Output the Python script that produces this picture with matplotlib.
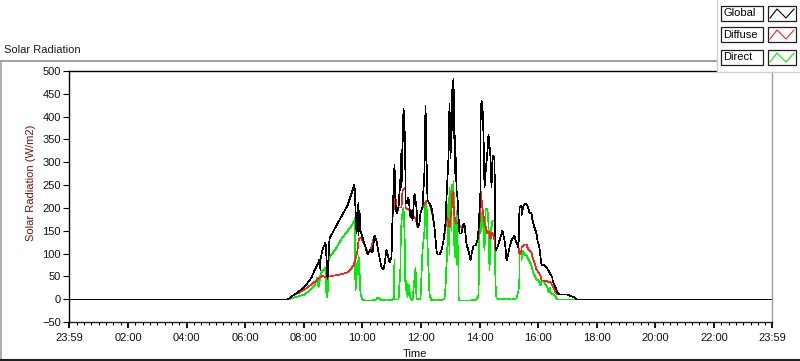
import numpy as np
import matplotlib.pyplot as plt
from matplotlib.patches import Rectangle
from matplotlib.lines import Line2D

plt.rcParams['font.family'] = ['Liberation Sans', 'DejaVu Sans']
plt.rcParams['font.size'] = 8

# time in hours after midnight, radiation in W/m2
t_global = [0, 7.43, 7.66, 7.89, 8.06, 8.23, 8.34, 8.46, 8.52, 8.54,
            8.55, 8.63, 8.72, 8.76, 8.80, 8.85, 9.14, 9.48, 9.73, 9.79,
            9.84, 9.86, 9.89, 9.93, 9.99, 10.11, 10.16, 10.25, 10.33, 10.41,
            10.46, 10.53, 10.62, 10.69, 10.75, 10.81, 10.87, 10.91, 10.96, 11.02,
            11.07, 11.11, 11.13, 11.22, 11.27, 11.31, 11.33, 11.38, 11.41, 11.45,
            11.47, 11.50, 11.56, 11.61, 11.65, 11.70, 11.77, 11.83, 11.88, 11.93,
            11.97, 12.04, 12.09, 12.13, 12.18, 12.21, 12.27, 12.34, 12.38, 12.44,
            12.50, 12.55, 12.63, 12.70, 12.74, 12.81, 12.86, 12.93, 12.97, 13.00,
            13.02, 13.04, 13.05, 13.08, 13.09, 13.11, 13.14, 13.16, 13.18, 13.19,
            13.22, 13.27, 13.31, 13.38, 13.43, 13.47, 13.54, 13.61, 13.68, 13.72,
            13.77, 13.84, 13.90, 13.95, 14.00, 14.02, 14.04, 14.09, 14.11, 14.16,
            14.20, 14.25, 14.29, 14.34, 14.38, 14.41, 14.45, 14.50, 14.54, 14.59,
            14.66, 14.75, 14.82, 14.86, 14.91, 14.95, 15.02, 15.09, 15.16, 15.20,
            15.27, 15.32, 15.36, 15.41, 15.43, 15.48, 15.54, 15.61, 15.68, 15.74,
            15.80, 15.85, 15.91, 15.97, 16.02, 16.08, 16.11, 16.19, 16.27, 16.34,
            16.39, 16.46, 16.48, 16.57, 16.65, 16.71, 16.88, 16.99, 17.05, 17.22,
            17.28, 23.98]
global_rad = [0, 0, 11, 22, 34, 49, 64, 78, 87, 64,
              89, 111, 126, 93, 45, 133, 168, 207, 252, 144,
              213, 140, 195, 151, 137, 107, 100, 111, 104, 140,
              129, 104, 71, 67, 78, 111, 90, 82, 93, 180,
              297, 210, 188, 202, 268, 330, 246, 418, 385, 268,
              217, 210, 224, 180, 195, 173, 232, 202, 158, 166,
              191, 202, 283, 425, 312, 217, 210, 202, 188, 158,
              107, 100, 100, 107, 129, 166, 224, 312, 429, 310,
              400, 350, 480, 420, 484, 330, 380, 260, 312, 239,
              224, 180, 144, 144, 166, 166, 122, 107, 85, 100,
              118, 118, 129, 151, 239, 385, 436, 421, 363, 246,
              276, 327, 363, 312, 246, 312, 316, 305, 107, 115,
              129, 151, 129, 115, 85, 93, 115, 129, 140, 129,
              122, 115, 202, 206, 184, 206, 210, 206, 191, 188,
              173, 158, 144, 129, 115, 93, 78, 75, 71, 64,
              56, 49, 42, 27, 16, 11, 11, 12, 9, 4,
              0, 0]

t_diffuse = [0, 7.43, 7.66, 7.83, 8.00, 8.23, 8.46, 8.63, 8.74, 8.85,
             9.02, 9.25, 9.48, 9.59, 9.69, 9.76, 9.82, 9.86, 9.89, 9.93,
             9.99, 10.02, 10.11, 10.18, 10.27, 10.39, 10.46, 10.53, 10.62, 10.69,
             10.75, 10.81, 10.87, 10.91, 10.96, 11.02, 11.10, 11.13, 11.23, 11.32,
             11.36, 11.44, 11.47, 11.58, 11.64, 11.70, 11.75, 11.81, 11.88, 11.93,
             11.97, 12.04, 12.10, 12.21, 12.27, 12.33, 12.38, 12.44, 12.50, 12.55,
             12.63, 12.70, 12.74, 12.81, 12.83, 12.89, 12.95, 13.01, 13.07, 13.12,
             13.18, 13.24, 13.35, 13.38, 13.43, 13.47, 13.54, 13.61, 13.68, 13.72,
             13.77, 13.84, 13.90, 13.97, 14.03, 14.09, 14.14, 14.20, 14.26, 14.31,
             14.37, 14.43, 14.49, 14.54, 14.59, 14.66, 14.75, 14.82, 14.86, 14.91,
             14.95, 15.02, 15.09, 15.16, 15.20, 15.27, 15.32, 15.36, 15.40, 15.43,
             15.50, 15.57, 15.62, 15.67, 15.74, 15.80, 15.85, 15.93, 16.00, 16.05,
             16.11, 16.19, 16.31, 16.39, 16.46, 16.53, 16.59, 16.65, 16.88, 16.99,
             17.05, 17.22, 17.28, 23.98]
diffuse_rad = [0, 0, 11, 16, 23, 34, 45, 53, 49, 50,
               53, 55, 60, 67, 75, 89, 107, 129, 133, 137,
               129, 126, 111, 104, 107, 140, 129, 104, 71, 67,
               78, 111, 90, 82, 93, 180, 224, 202, 202, 202,
               239, 246, 202, 195, 180, 188, 177, 180, 158, 166,
               191, 202, 210, 217, 210, 195, 184, 158, 107, 100,
               100, 107, 129, 158, 158, 180, 158, 195, 239, 180,
               166, 169, 158, 144, 166, 166, 122, 107, 85, 100,
               118, 118, 129, 158, 239, 200, 170, 160, 146, 150,
               132, 148, 132, 107, 115, 129, 151, 129, 115, 85,
               93, 115, 129, 140, 129, 122, 115, 100, 105, 115,
               122, 120, 114, 110, 104, 93, 82, 67, 60, 53,
               43, 42, 40, 38, 31, 23, 16, 11, 11, 12,
               9, 4, 0, 0]

t_direct = [0, 7.43, 7.77, 8.00, 8.17, 8.34, 8.46, 8.49, 8.55, 8.63,
            8.68, 8.72, 8.75, 8.80, 8.83, 8.91, 9.08, 9.25, 9.42, 9.59,
            9.71, 9.73, 9.75, 9.77, 9.82, 9.84, 9.86, 9.89, 9.91, 9.97,
            10.05, 10.28, 10.45, 10.51, 10.55, 10.65, 10.79, 10.96, 11.03, 11.07,
            11.09, 11.23, 11.27, 11.30, 11.33, 11.38, 11.41, 11.45, 11.49, 11.53,
            11.56, 11.61, 11.71, 11.79, 11.82, 11.91, 11.98, 12.04, 12.09, 12.13,
            12.18, 12.22, 12.27, 12.33, 12.50, 12.67, 12.79, 12.81, 12.86, 12.90,
            12.93, 12.95, 12.97, 13.01, 13.04, 13.07, 13.09, 13.12, 13.16, 13.18,
            13.21, 13.25, 13.27, 13.29, 13.52, 13.69, 13.89, 13.95, 13.97, 14.00,
            14.03, 14.07, 14.11, 14.14, 14.18, 14.22, 14.26, 14.29, 14.31, 14.36,
            14.41, 14.50, 14.52, 14.57, 14.71, 14.89, 15.06, 15.23, 15.30, 15.34,
            15.36, 15.40, 15.43, 15.45, 15.51, 15.57, 15.66, 15.74, 15.80, 15.85,
            15.93, 16.00, 16.08, 16.11, 16.19, 16.25, 16.31, 16.34, 16.39, 16.42,
            16.53, 16.65, 17.28, 23.98]
direct_rad = [0, 0, 6, 12, 20, 31, 49, 27, 56, 64,
              67, 71, 5, 5, 85, 96, 111, 129, 144, 158,
              173, 180, 20, 49, 85, 56, 96, 64, 12, 1,
              -2, -1, 0, 4, 3, -1, 0, -1, 2, 89,
              0, 0, 71, 107, 173, 202, 151, 20, 42, 5,
              34, 2, -1, 71, 2, 0, 3, 107, 151, 217,
              210, 122, 12, -2, 0, -1, 2, 27, 78, 122,
              224, 100, 246, 151, 253, 210, 261, 93, 173, 78,
              195, 64, 5, -2, -2, -1, 0, 10, 158, 188,
              144, 195, 151, 107, 195, 199, 195, 166, 64, 144,
              173, 173, 34, 2, 1, 2, 1, 2, 20, 49,
              107, 100, 85, 107, 100, 96, 89, 75, 64, 53,
              45, 42, 31, 42, 38, 34, 27, 16, 27, 16,
              9, 1, 0, 0]

series_names = ['Global', 'Diffuse', 'Direct']
series_colors = ['#000000', '#ff2020', '#00ee00']

x_ticks = [-1/60, 2, 4, 6, 8, 10, 12, 14, 16, 18, 20, 22, 24 - 1/60]
x_labels = ['23:59', '02:00', '04:00', '06:00', '08:00', '10:00', '12:00',
            '14:00', '16:00', '18:00', '20:00', '22:00', '23:59']
y_ticks = np.arange(-50, 501, 50)

W, H = 800, 361
fig = plt.figure(figsize=(W/100, H/100), dpi=100)
ax = fig.add_axes([69/W, 1 - 322/H, (772 - 69)/W, (322 - 71)/H])

for tt, vv, col in [(t_direct, direct_rad, series_colors[2]),
                    (t_diffuse, diffuse_rad, series_colors[1]),
                    (t_global, global_rad, series_colors[0])]:
    ax.plot(tt, vv, color=col, lw=0.5, antialiased=False, snap=True)

ax.set_xlim(-1/60, 24 - 1/60)
ax.set_ylim(-50, 500)
ax.set_xticks(x_ticks)
ax.set_xticklabels(x_labels)
ax.set_xticks(np.arange(0, 24, 0.25), minor=True)
ax.set_yticks(y_ticks)
lab_col = '#10102a'
ax.tick_params(axis='x', which='major', length=4, width=1.3, pad=4, labelcolor=lab_col)
ax.tick_params(axis='x', which='minor', length=2.2, width=0.8)
ax.tick_params(axis='y', length=4, width=0.8, pad=2, labelcolor=lab_col)

for side in ['left', 'top']:
    ax.spines[side].set_color('black')
    ax.spines[side].set_linewidth(1.0)
ax.spines['bottom'].set_color('#202020')
ax.spines['bottom'].set_linewidth(1.0)
ax.spines['right'].set_color('#a0a0a0')
ax.spines['right'].set_linewidth(1.0)

fig.text(31/W, 1 - 183/H, 'Solar Radiation (W/m2)', rotation=90,
         ha='center', va='center', color='#7a1010')
fig.text(415/W, 1 - 354/H, 'Time', ha='center', va='center', color='#10102a')

# overlay for the control frame and the plot legend (pixel coordinates)
ov = fig.add_axes([0, 0, 1, 1], zorder=5)
ov.set_xlim(0, W)
ov.set_ylim(H, 0)
ov.axis('off')

ov.plot([0.5, 0.5], [61, 360], color='#a0a0a0', lw=1.2)
ov.plot([0.5, 717], [61, 61], color='#909090', lw=1.2)
ov.plot([0, W], [360, 360], color='#202020', lw=1.5)
ov.text(4, 50, 'Solar Radiation', ha='left', va='center', color='#1a1a1a')

ov.add_patch(Rectangle((717, 0), 83, 72, facecolor='white', edgecolor='none'))
ov.plot([717, 717, 800], [0, 72, 72], color='#d0d0d0', lw=1.0)

row_tops = [6, 27, 50]
for name, col, top in zip(series_names, series_colors, row_tops):
    ov.add_patch(Rectangle((721, top), 42, 15, facecolor='white',
                           edgecolor='#202020', lw=0.9))
    ov.text(723, top + 7.5, name, ha='left', va='center', color='black')
    ov.add_patch(Rectangle((768, top), 28, 15, facecolor='white',
                           edgecolor='#202020', lw=0.9))
    ov.add_line(Line2D([770, 777, 786, 794], [top + 12, top + 3, top + 12, top + 3],
                       color=col, lw=0.8))

fig.savefig('out.png', dpi=100)
